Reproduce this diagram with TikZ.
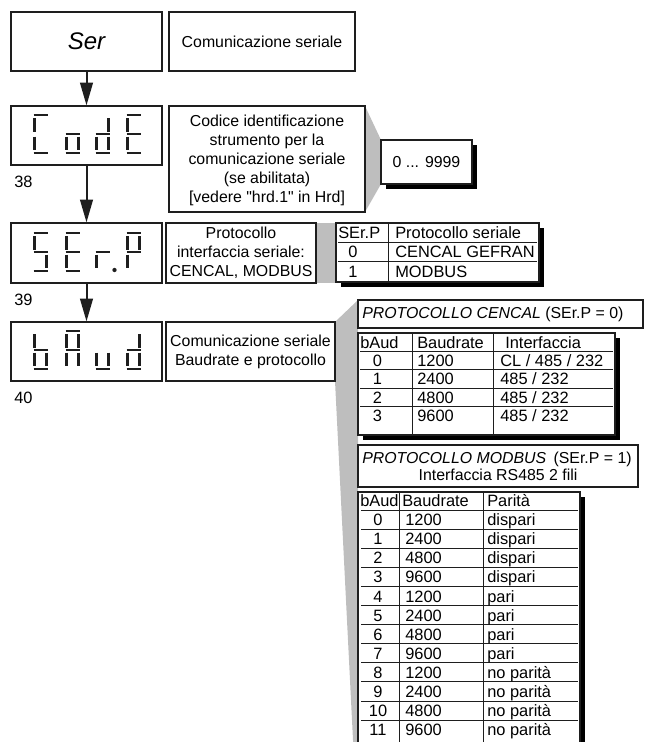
\documentclass[tikz,border=0pt]{standalone}
\usepackage{fontspec}
\setmainfont{Liberation Sans}
\usetikzlibrary{arrows.meta,positioning,fit,shadows}
\definecolor{wedgegray}{RGB}{190,190,190}
\definecolor{inkgray}{RGB}{30,30,30}
\newcommand{\txt}{\fontsize{11.9}{14.2}\selectfont}
\newcommand{\tabtxt}{\fontsize{12.3}{14.2}\selectfont}
\newcommand{\sevseg}[3]{\foreach \s in {#3}{\pic at (#1,#2) {sg\s};}}
\tikzset{
  segline/.style={line width=2.1pt, draw=inkgray},
  sgA/.pic={\draw[segline] (0.5,1.5) -- (14.5,1.5);},
  sgB/.pic={\draw[segline] (13.5,4.5) -- (13.5,18);},
  sgC/.pic={\draw[segline] (13.5,23) -- (13.5,36.5);},
  sgD/.pic={\draw[segline] (0.5,39.5) -- (14.5,39.5);},
  sgE/.pic={\draw[segline] (1.5,23) -- (1.5,36.5);},
  sgF/.pic={\draw[segline] (1.5,4.5) -- (1.5,18);},
  sgG/.pic={\draw[segline] (0.5,20.5) -- (14.5,20.5);},
  sgDP/.pic={\fill[inkgray] (19.5,38.5) circle (1.6pt);}
}

\begin{document}
\begin{tikzpicture}[x=0.75pt, y=-0.75pt,
      pbox/.style={draw=inkgray, line width=0.9pt, fill=white, inner sep=0pt},
      shbox/.style={pbox, drop shadow={shadow xshift=3.6pt, shadow yshift=-3.6pt,
                    fill=black, opacity=1}},
      desc/.style={inner sep=0pt, align=center, font=\txt},
      cell/.style={inner sep=0pt, font=\tabtxt},
      tabrule/.style={draw=inkgray, line width=0.7pt},
      arr/.style={-{Triangle[length=17pt, width=9.5pt]}, line width=1.5pt, inkgray},
      wedge/.style={fill=wedgegray, draw=none}
    ]
    \clip (0,0) rectangle (654,742);
    \fill[wedge] (365,106) -- (381,140) -- (381,184) -- (365,212) -- cycle;
    \fill[wedge] (316,223) rectangle (336,283);
    \fill[wedge] (335,322) -- (358,300) -- (358,760) -- (354,760) -- (335,381) -- cycle;

    \node[pbox, fit={(11,12) (162,71)}] (ser) {};
    \node[desc, font=\fontsize{18}{20}\selectfont\itshape] (ser-t) at (ser.center) {Ser};
    \node[pbox, fit={(11,106) (162,165)}] (code) {};
    \node[pbox, fit={(11,223) (162,283)}] (serp) {};
    \node[pbox, fit={(11,322) (162,381)}] (baud) {};
    \draw[arr] (ser) -- (code);
    \draw[arr] (code) -- (serp);
    \draw[arr] (serp) -- (baud);

    \sevseg{33}{113.5}{A,D,E,F}
    \sevseg{65}{113.5}{C,D,E,G}
    \sevseg{95}{113.5}{B,C,D,E,G}
    \sevseg{126}{113.5}{A,D,E,F,G}
    \sevseg{33}{231.5}{A,F,G,C,D}
    \sevseg{65}{231.5}{A,F,G,E,D}
    \sevseg{95}{231.5}{E,G,DP}
    \sevseg{126}{231.5}{A,B,F,G,E}
    \sevseg{33}{329.5}{F,E,G,C,D}
    \sevseg{65}{329.5}{A,B,C,E,F,G}
    \sevseg{95}{329.5}{C,D,E}
    \sevseg{126}{329.5}{B,C,D,E,G}

    \node[cell, anchor=base west] (n38) at (14,187) {38};
    \node[cell, anchor=base west] (n39) at (14,305) {39};
    \node[cell, anchor=base west] (n40) at (14,403) {40};

    \node[pbox, fit={(169,12) (355,71)}] (serd) {};
    \node[desc] (serd-t) at (serd.center) {Comunicazione seriale};
    \node[pbox, fit={(169,106) (365,212)}] (coded) {};
    \node[desc, yshift=-1pt] (coded-t) at (coded.center) {Codice identificazione\\strumento per la\\
      comunicazione seriale\\(se abilitata)\\{[vedere \textquotedbl hrd.1\textquotedbl{} in Hrd]}};
    \node[shbox, fit={(381,140) (472,184)}] (rng) {};
    \node[desc] (rng-t) at (rng.center) {0 ... 9999};
    \node[pbox, fit={(166,223) (316,283)}] (serpd) {};
    \node[desc] (serpd-t) at (serpd.center) {Protocollo\\interfaccia seriale:\\CENCAL, MODBUS};
    \node[pbox, fit={(166,322) (335,381)}] (baudd) {};
    \node[desc] (baudd-t) at (baudd.center) {Comunicazione seriale\\Baudrate e protocollo};

    \node[shbox, fit={(336,223) (539,282)}] (spt) {};
    \draw[tabrule] (388,223) -- (388,282);
    \foreach \y in {242,261} \draw[tabrule] (338,\y) -- (537,\y);
    \node[cell, anchor=base west] (spt-h1) at (338,238) {SEr.P};
    \node[cell, anchor=base west] (spt-h2) at (395,238) {Protocollo seriale};
    \foreach \n/\p [count=\i] in {0/CENCAL GEFRAN, 1/MODBUS} {
      \node[cell, anchor=base] (spt-\i-1) at (353,{242+19.5*\i-4}) {\n};
      \node[cell, anchor=base west] (spt-\i-2) at (395,{242+19.5*\i-4}) {\p};
    }

    \node[pbox, fit={(358,300) (643,328)}] (cenh) {};
    \node[desc, anchor=base west] (cenh-t) at (362,318) {\textit{PROTOCOLLO CENCAL} (SEr.P = 0)};
    \node[shbox, fit={(358,333) (615,435)}] (cent) {};
    \foreach \x in {412,493} \draw[tabrule] (\x,333) -- (\x,435);
    \foreach \y in {351,369.6,388.2,406.8} \draw[tabrule] (360,\y) -- (613,\y);
    \node[cell, anchor=base west] (cent-h1) at (360,348) {bAud};
    \node[cell, anchor=base west] (cent-h2) at (417,348) {Baudrate};
    \node[cell, anchor=base west] (cent-h3) at (505,348) {Interfaccia};
    \foreach \n/\b/\f [count=\i] in {0/1200/{CL / 485 / 232}, 1/2400/{485 / 232},
        2/4800/{485 / 232}, 3/9600/{485 / 232}} {
      \node[cell, anchor=base] (cent-\i-1) at (377.5,{351+18.6*\i-3.5}) {\n};
      \node[cell, anchor=base west] (cent-\i-2) at (417,{351+18.6*\i-3.5}) {\b};
      \node[cell, anchor=base west] (cent-\i-3) at (500,{351+18.6*\i-3.5}) {\f};
    }

    \node[pbox, fit={(358,445) (638,487)}] (modh) {};
    \node[desc, anchor=base west] (modh-t) at (362,463) {\textit{PROTOCOLLO MODBUS}\hspace{5.5pt}(SEr.P = 1)};
    \node[desc, anchor=base] (modh-s) at (498,480) {Interfaccia RS485 2 fili};
    \node[shbox, fit={(358,492) (580,770)}] (modt) {};
    \foreach \x in {399,483} \draw[tabrule] (\x,492) -- (\x,770);
    \foreach \k in {0,...,11} \draw[tabrule] (361,{510+19.1*\k}) -- (578,{510+19.1*\k});
    \node[cell, anchor=base west] (modt-h1) at (360,506.5) {bAud};
    \node[cell, anchor=base west] (modt-h2) at (402,506.5) {Baudrate};
    \node[cell, anchor=base west] (modt-h3) at (487,506.5) {Parità};
    \foreach \n/\b/\p [count=\i] in {0/1200/dispari, 1/2400/dispari, 2/4800/dispari,
        3/9600/dispari, 4/1200/pari, 5/2400/pari, 6/4800/pari, 7/9600/pari,
        8/1200/no parità, 9/2400/no parità, 10/4800/no parità, 11/9600/no parità} {
      \node[cell, anchor=base] (modt-\i-1) at (378,{510+19.1*\i-3.5}) {\n};
      \node[cell, anchor=base west] (modt-\i-2) at (405,{510+19.1*\i-3.5}) {\b};
      \node[cell, anchor=base west] (modt-\i-3) at (487,{510+19.1*\i-3.5}) {\p};
    }
  \end{tikzpicture}
\end{document}
